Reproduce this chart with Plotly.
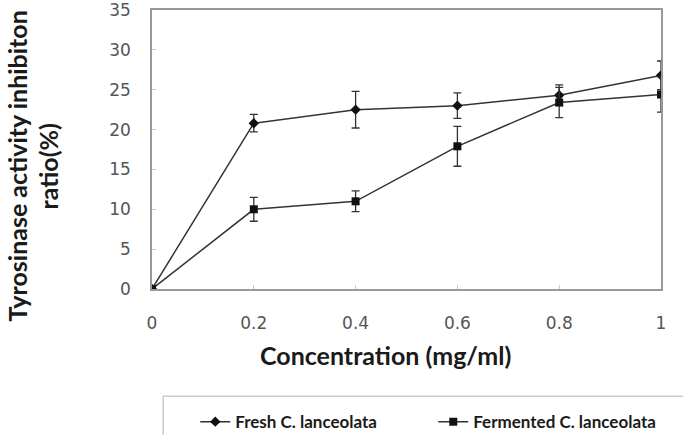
import plotly.graph_objects as go

concentration = [0, 0.2, 0.4, 0.6, 0.8, 1.0]
fresh = [0, 20.8, 22.5, 23.0, 24.3, 26.8]
fresh_err = [0, 1.1, 2.3, 1.6, 1.3, 1.8]
fermented = [0, 10.0, 11.0, 17.9, 23.4, 24.4]
fermented_err = [0, 1.5, 1.3, 2.5, 1.9, 2.2]
x_ticks = [0, 0.2, 0.4, 0.6, 0.8, 1]
x_ticklabels = ["0", "0.2", "0.4", "0.6", "0.8", "1"]
y_ticks = [0, 5, 10, 15, 20, 25, 30, 35]

fig = go.Figure()
fig.add_trace(go.Scatter(
    x=concentration, y=fresh, name="Fresh C. lanceolata", mode="lines+markers",
    line=dict(color="#333333", width=1.5),
    marker=dict(symbol="diamond", size=8, color="#111111"),
    error_y=dict(type="data", array=fresh_err, color="#333333", thickness=1.3, width=4),
))
fig.add_trace(go.Scatter(
    x=concentration, y=fermented, name="Fermented C. lanceolata", mode="lines+markers",
    line=dict(color="#333333", width=1.5),
    marker=dict(symbol="square", size=8, color="#111111"),
    error_y=dict(type="data", array=fermented_err, color="#333333", thickness=1.3, width=4),
))

axis_common = dict(
    showgrid=False, zeroline=False, showline=True, linecolor="#999999", linewidth=1.5,
    mirror=True, ticks="inside", ticklen=4, tickcolor="#cccccc",
    tickfont=dict(family="DejaVu Sans", size=17, color="#555555"),
    automargin=False, ticklabeloverflow="allow",
)
fig.update_xaxes(range=[0, 1], tickvals=x_ticks, ticktext=x_ticklabels,
                 ticklabelstandoff=18, **axis_common)
fig.update_yaxes(range=[0, 35], tickvals=y_ticks, ticklabelstandoff=16, **axis_common)

title_font = dict(family="Lato", size=25, color="#1a1a1a")
fig.update_layout(
    width=683, height=435,
    margin=dict(l=152, r=22, t=10, b=146, autoexpand=False),
    plot_bgcolor="white", paper_bgcolor="white",
    showlegend=True,
    legend=dict(orientation="h", x=0.085, xanchor="left", y=-0.477, yanchor="middle",
                font=dict(family="Lato", size=17, color="#1a1a1a", weight="bold"),
                entrywidth=193, bgcolor="rgba(0,0,0,0)"),
    annotations=[
        dict(text="<b>Concentration (mg/ml)</b>", xref="paper", yref="paper",
             x=0.458, y=-0.237, xanchor="center", yanchor="middle", showarrow=False,
             font=title_font),
        dict(text="<b>Tyrosinase activity inhibiton</b>", xref="paper", yref="paper",
             x=-0.266, y=0.441, xanchor="center", yanchor="middle", showarrow=False,
             textangle=-90, font=title_font),
        dict(text="<b>ratio(%)</b>", xref="paper", yref="paper",
             x=-0.205, y=0.438, xanchor="center", yanchor="middle", showarrow=False,
             textangle=-90, font=title_font),
    ],
    shapes=[dict(type="rect", xref="paper", yref="paper",
                 x0=0.022, x1=1.1, y0=-0.384, y1=-0.6,
                 line=dict(color="#cccccc", width=1.5))],
)

fig.write_html("out.html")
